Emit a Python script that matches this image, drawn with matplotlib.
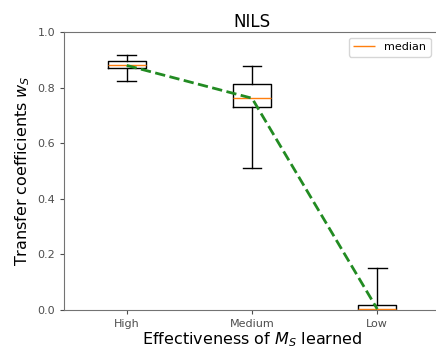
import matplotlib
matplotlib.use("Agg")
import matplotlib.pyplot as plt

# effectiveness levels and box statistics
levels = ["High", "Medium", "Low"]
medians = [0.880, 0.762, 0.003]
q1 = [0.870, 0.732, 0.0]
q3 = [0.895, 0.812, 0.016]
whis_lo = [0.823, 0.512, 0.0]
whis_hi = [0.917, 0.877, 0.150]


def main():
    fig = plt.figure(figsize=(4.36, 3.49), dpi=100)
    # right edge sits just past the image border (reference is cropped there)
    ax = fig.add_axes([0.147, 0.112, 0.862, 0.796])

    stats = [
        dict(label=lab, med=m, q1=a, q3=b, whislo=lo, whishi=hi, fliers=[])
        for lab, m, a, b, lo, hi in zip(levels, medians, q1, q3, whis_lo, whis_hi)
    ]
    pos = list(range(1, len(levels) + 1))
    bp = ax.bxp(stats, positions=pos, widths=0.3, showfliers=False)

    # dashed trend through the medians
    ax.plot(pos, medians, linestyle="--", color="#228B22", linewidth=2, zorder=5)

    ax.legend([bp["medians"][0]], ["median"], loc="upper right",
              bbox_to_anchor=(0.99, 1.0), fontsize=8)

    ax.set_xlim(0.5, 3.5)
    ax.set_ylim(0.0, 1.0)
    ax.set_xticks(pos)
    ax.set_xticklabels(levels, fontsize=8)
    ax.tick_params(axis="y", labelsize=8)
    ax.tick_params(colors="0.3", length=3)
    for sp in ax.spines.values():
        sp.set_color("0.45")

    ax.set_title("NILS", fontsize=12, pad=4)
    ax.set_xlabel("Effectiveness of $M_S$ learned", fontsize=11.5, labelpad=1)
    ax.set_ylabel("Transfer coefficients $w_S$", fontsize=11.5)

    fig.savefig("out.png", dpi=100)


if __name__ == "__main__":
    main()
